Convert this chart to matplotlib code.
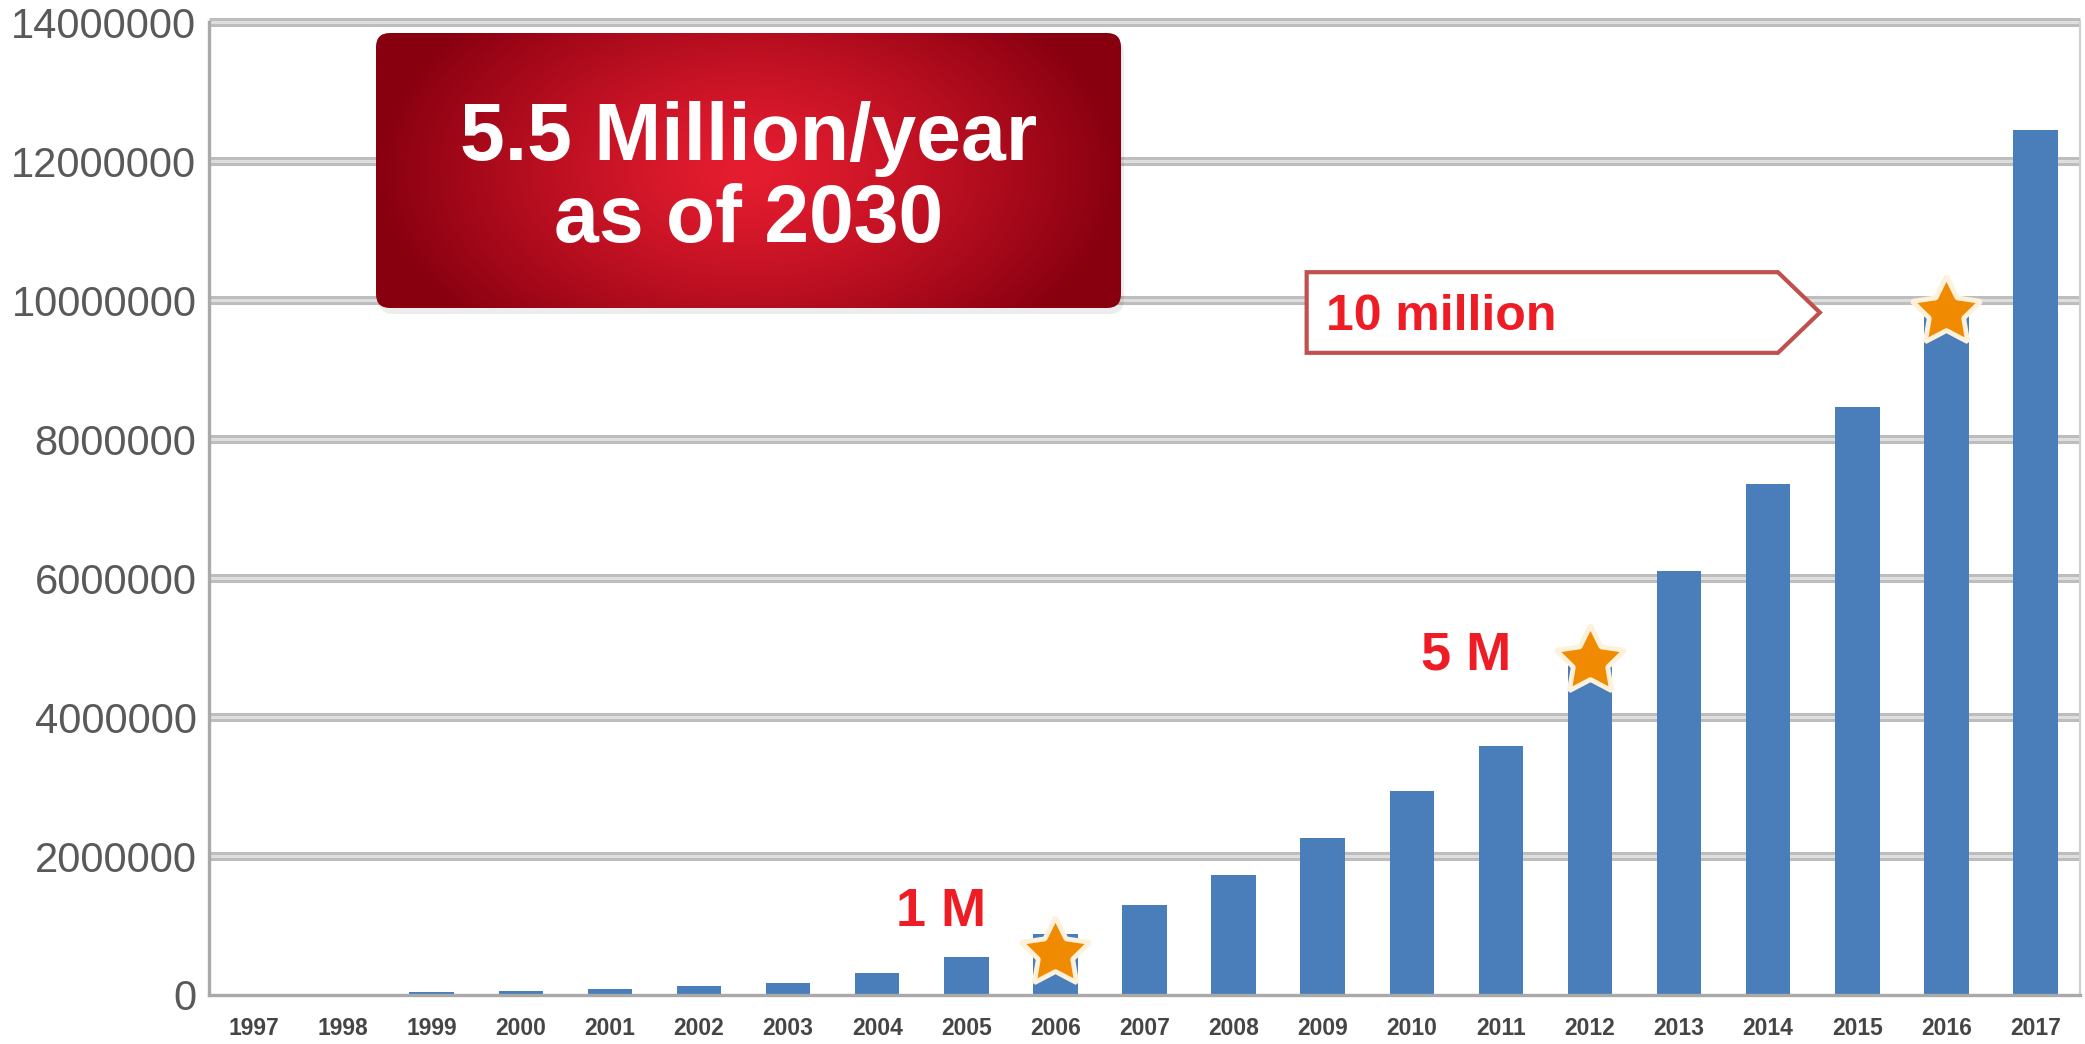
import numpy as np
import matplotlib
matplotlib.use("Agg")
import matplotlib.pyplot as plt
from matplotlib.patches import FancyBboxPatch, Polygon

# ---- data -------------------------------------------------------------
years = [str(y) for y in range(1997, 2018)]
values = [0.0, 0.02e6, 0.05e6, 0.06e6, 0.09e6, 0.13e6, 0.17e6, 0.31e6,
          0.55e6, 0.88e6, 1.30e6, 1.73e6, 2.26e6, 2.94e6, 3.58e6, 4.80e6,
          6.10e6, 7.35e6, 8.46e6, 9.85e6, 12.44e6]
y_ticks = [0, 2000000, 4000000, 6000000, 8000000, 10000000, 12000000, 14000000]

star_years = ["2006", "2012", "2016"]
star_values = [0.60e6, 4.80e6, 9.83e6]

milestones = ["1 M", "5 M"]
headline = ["5.5 Million/year", "as of 2030"]
arrow_label = "10 million"

# ---- styling ------------------------------------------------------------
W, H = 2085, 1044
BAR_COLOR = "#4a7ebb"
GRID_DARK = "#bdbdbd"
GRID_LIGHT = "#dedede"
LABEL_RED = "#ee1c25"
STAR_COLOR = "#f08a00"

fig = plt.figure(figsize=(W / 100, H / 100), dpi=100)
fig.patch.set_facecolor("white")

ax_left, ax_right, ax_bottom, ax_top = 209, 2080, 995, 22
ax = fig.add_axes([ax_left / W, 1 - ax_bottom / H,
                   (ax_right - ax_left) / W, (ax_bottom - ax_top) / H])

x = np.arange(len(years))
ax.bar(x, values, width=0.5, color=BAR_COLOR, zorder=3)

ax.set_xlim(-0.5, len(years) - 0.5)
ax.set_ylim(0, 14000000)
ax.set_yticks(y_ticks)
ax.set_yticklabels([str(v) for v in y_ticks])
ax.set_xticks(x)
ax.set_xticklabels(years)

# double-stroke horizontal gridlines
for v in y_ticks[1:]:
    ax.axhline(v, color=GRID_DARK, lw=6.5, zorder=1, clip_on=False,
               solid_capstyle="butt")
    ax.axhline(v, color=GRID_LIGHT, lw=2.2, zorder=1.1, clip_on=False,
               solid_capstyle="butt")

for side in ("left", "bottom"):
    ax.spines[side].set_color("#a9a9a9")
    ax.spines[side].set_linewidth(2.4)
    ax.spines[side].set_zorder(4)
ax.spines["right"].set_color("#cfcfcf")
ax.spines["right"].set_linewidth(1.5)
ax.spines["top"].set_visible(False)

ax.tick_params(axis="y", length=0, pad=9, labelsize=30, labelcolor="#595959")
ax.tick_params(axis="x", length=0, pad=16, labelsize=16.5, labelcolor="#454545")
for t in ax.get_yticklabels():
    t.set_family(["Liberation Sans", "DejaVu Sans"])
for t in ax.get_xticklabels():
    t.set_family(["Liberation Sans Narrow", "Liberation Sans", "DejaVu Sans"])
    t.set_fontweight("bold")

# stars marking milestone years
star_x = [years.index(y) for y in star_years]
ax.plot(star_x, star_values, linestyle="none", marker=(5, 1, 0),
        markersize=52, markerfacecolor=STAR_COLOR, markeredgecolor="#fdf1dc",
        markeredgewidth=3.5, zorder=6, clip_on=False)

bold_font = ["Liberation Sans", "DejaVu Sans"]
ax.text(7.72, 1.19e6, milestones[0], color=LABEL_RED, fontsize=39,
        fontweight="bold", family=bold_font, ha="center", va="center",
        zorder=7)
ax.text(13.61, 4.89e6, milestones[1], color=LABEL_RED, fontsize=39,
        fontweight="bold", family=bold_font, ha="center", va="center",
        zorder=7)

# pentagon callout pointing towards the 2016 bar
callout = Polygon([(11.82, 9.24e6), (11.82, 10.40e6), (17.11, 10.40e6),
                   (17.58, 9.82e6), (17.11, 9.24e6)], closed=True,
                  facecolor="white", edgecolor="#c0504d", linewidth=3,
                  joinstyle="miter", zorder=5)
ax.add_patch(callout)
ax.text(12.04, 9.76e6, arrow_label, color=LABEL_RED, fontsize=36,
        fontweight="bold", family=bold_font, ha="left", va="center",
        zorder=7)

# ---- headline box with radial red gradient ------------------------------
bx0, by0, bx1, by1 = 376, 33, 1121, 308      # pixel box (top-left origin)
margin = 12
bw, bh = bx1 - bx0, by1 - by0
box_ax = fig.add_axes([(bx0 - margin) / W, 1 - (by1 + margin) / H,
                       (bw + 2 * margin) / W, (bh + 2 * margin) / H])
box_ax.set_xlim(-margin, bw + margin)
box_ax.set_ylim(-margin, bh + margin)
box_ax.axis("off")
box_ax.patch.set_alpha(0)

shadow = FancyBboxPatch((3, -6), bw, bh,
                        boxstyle="round,pad=0,rounding_size=14",
                        facecolor="#000000", edgecolor="none", alpha=0.07,
                        zorder=1)
box_ax.add_patch(shadow)

gx = np.linspace(-1, 1, 600)
gy = np.linspace(-1, 1, 240)
GX, GY = np.meshgrid(gx, gy)
d = np.clip(np.sqrt(GX ** 2 + (0.6 * GY) ** 2), 0, 1) ** 1.25
c_center = np.array([0xe6, 0x1d, 0x30]) / 255
c_edge = np.array([0x88, 0x00, 0x10]) / 255
img = c_center[None, None, :] + (c_edge - c_center)[None, None, :] * d[..., None]
im = box_ax.imshow(img, extent=[0, bw, 0, bh], aspect="auto",
                   interpolation="bilinear", zorder=2)
clip = FancyBboxPatch((0, 0), bw, bh, boxstyle="round,pad=0,rounding_size=14",
                      facecolor="none", edgecolor="none",
                      transform=box_ax.transData)
box_ax.add_patch(clip)
im.set_clip_path(clip)

for line, base in zip(headline, [148, 66]):
    box_ax.text(bw / 2, base, line, color="white", fontsize=58,
                fontweight="bold", family=bold_font, ha="center",
                va="baseline", zorder=3)

fig.savefig("out.png", dpi=100, facecolor="white")
